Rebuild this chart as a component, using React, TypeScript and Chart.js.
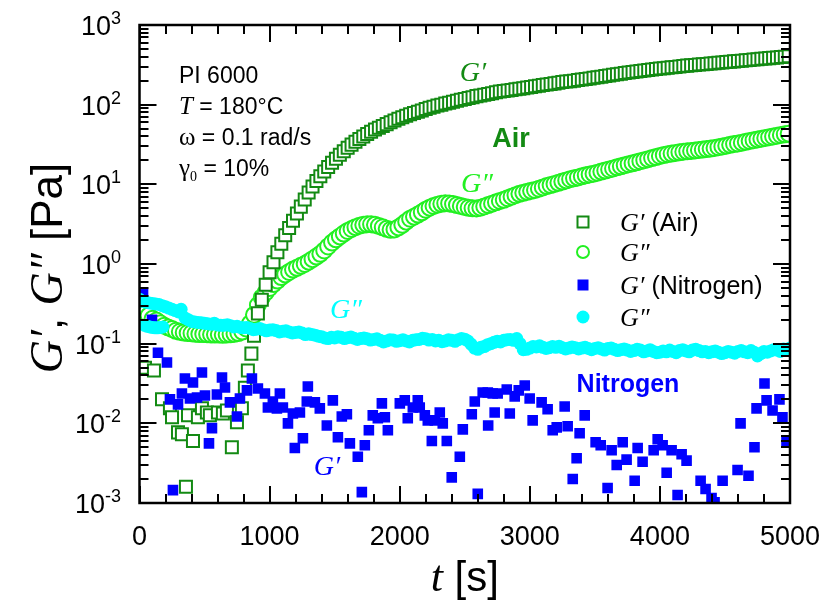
import React, { useEffect, useRef } from 'react';
import { Chart, registerables } from 'chart.js';
Chart.register(...registerables);

// ---------- axes ----------
const X_MIN = 0;
const X_MAX = 5000;
const Y_MIN = 1e-3;
const Y_MAX = 1e3;
const xTickValues = [0, 1000, 2000, 3000, 4000, 5000];
const xTickLabels = ['0', '1000', '2000', '3000', '4000', '5000'];
const yTickExponents = [-3, -2, -1, 0, 1, 2, 3];
const yTickExpLabels = ['-3', '-2', '-1', '0', '1', '2', '3'];

// ---------- data: [t (s), modulus (Pa)] ----------
const airStorage: [number, number][] = [
  [42, 0.05], [111, 0.046], [173, 0.02], [234, 0.0155], [250, 0.0119], [296, 0.0077], [326, 0.0073],
  [357, 0.0016], [373, 0.0126], [411, 0.006], [449, 0.0119], [480, 0.0155], [518, 0.0137], [541, 0.0126],
  [603, 0.0137], [641, 0.0133], [672, 0.0145], [710, 0.005], [749, 0.0103], [787, 0.0155], [810, 0.028],
  [833, 0.046], [860, 0.075],
  [880, 0.126], [910, 0.24], [940, 0.355], [970, 0.55], [1000, 0.79], [1030, 1.05], [1060, 1.4],
  [1090, 1.8], [1120, 2.29], [1150, 2.83], [1180, 3.5], [1210, 4.3], [1240, 5.25], [1270, 6.45],
  [1300, 7.9], [1330, 9.4], [1360, 11.0], [1390, 12.6], [1420, 14.5], [1450, 16.5], [1480, 18.6],
  [1510, 21.0], [1540, 23.5], [1570, 26.0], [1600, 28.8], [1630, 31.5], [1660, 34.3], [1690, 37.1],
  [1720, 39.8], [1750, 42.7], [1780, 45.8], [1810, 48.7], [1840, 51.3], [1870, 54.0], [1900, 57.0],
  [1930, 60.0], [1960, 63.1], [1990, 66.4], [2020, 69.6], [2050, 72.7], [2080, 75.9], [2110, 78.5],
  [2140, 81.3], [2170, 84.4], [2200, 88.1], [2230, 91.2], [2260, 94.4], [2290, 97.4], [2320, 100],
  [2350, 103.5], [2380, 106], [2410, 109], [2440, 112], [2470, 115], [2500, 118], [2530, 121],
  [2560, 124], [2590, 128], [2620, 130], [2650, 133], [2680, 136], [2710, 139], [2740, 143], [2770, 146],
  [2800, 148], [2830, 150.5], [2860, 153], [2890, 156], [2920, 158], [2950, 161], [2980, 164],
  [3010, 167], [3040, 170], [3070, 173], [3100, 176], [3130, 179], [3160, 182], [3190, 185], [3220, 189],
  [3250, 192], [3280, 195], [3310, 196.5], [3340, 200], [3370, 203.5], [3400, 207], [3430, 210],
  [3460, 213], [3490, 217], [3520, 221], [3550, 224.5], [3580, 229], [3610, 233], [3640, 237],
  [3670, 241.5], [3700, 245], [3730, 249.5], [3760, 254], [3790, 257.5], [3820, 261], [3850, 265],
  [3880, 269], [3910, 272.5], [3940, 276], [3970, 280], [4000, 284], [4030, 287], [4060, 291],
  [4090, 294.5], [4120, 298], [4150, 302], [4180, 306], [4210, 309], [4240, 312], [4270, 315],
  [4300, 319], [4330, 322], [4360, 325], [4390, 329], [4420, 332], [4450, 335.5], [4480, 339],
  [4510, 343], [4540, 346], [4570, 349.5], [4600, 353], [4630, 357], [4660, 361], [4690, 364.5],
  [4720, 368], [4750, 372], [4780, 376], [4810, 379.5], [4840, 384], [4870, 387.5], [4900, 391],
  [4930, 395.5], [4960, 400], [4990, 404.5],
];

const airLoss: [number, number][] = [
  [10, 0.215], [40, 0.235], [70, 0.225], [100, 0.205], [130, 0.195], [160, 0.18], [190, 0.168],
  [220, 0.16], [250, 0.153], [280, 0.145], [310, 0.141], [340, 0.138], [370, 0.136], [400, 0.135],
  [430, 0.133], [460, 0.132], [490, 0.132], [520, 0.131], [550, 0.13], [580, 0.13], [610, 0.13],
  [640, 0.129], [670, 0.13], [700, 0.131], [730, 0.133], [760, 0.136], [790, 0.142], [820, 0.155],
  [850, 0.18],
  [880, 0.23], [910, 0.305], [940, 0.38], [970, 0.44], [1000, 0.5], [1030, 0.56], [1060, 0.62],
  [1090, 0.685], [1120, 0.74], [1150, 0.795], [1180, 0.85], [1210, 0.895], [1240, 0.95], [1270, 1.0],
  [1300, 1.07], [1330, 1.15], [1360, 1.24], [1390, 1.34], [1420, 1.48], [1450, 1.66], [1480, 1.86],
  [1510, 2.04], [1540, 2.22], [1570, 2.41], [1600, 2.6], [1630, 2.75], [1660, 2.9], [1690, 3.02],
  [1720, 3.1], [1750, 3.15], [1780, 3.15], [1810, 3.1], [1840, 3.0], [1870, 2.89], [1900, 2.76],
  [1930, 2.69], [1960, 2.72], [1990, 2.88], [2020, 3.1], [2050, 3.4], [2080, 3.7], [2110, 3.93],
  [2140, 4.18], [2170, 4.46], [2200, 4.8], [2230, 5.1], [2260, 5.35], [2290, 5.55], [2320, 5.7],
  [2350, 5.78], [2380, 5.75], [2410, 5.65], [2440, 5.5], [2470, 5.35], [2500, 5.2], [2530, 5.08],
  [2560, 5.0], [2590, 4.99], [2620, 5.1], [2650, 5.28], [2680, 5.5], [2710, 5.72], [2740, 5.95],
  [2770, 6.18], [2800, 6.4], [2830, 6.7], [2860, 7.0], [2890, 7.3], [2920, 7.6], [2950, 7.82],
  [2980, 8.05], [3010, 8.28], [3040, 8.5], [3070, 8.8], [3100, 9.15], [3130, 9.5], [3160, 9.8],
  [3190, 10.1], [3220, 10.45], [3250, 10.82], [3280, 11.2], [3310, 11.58], [3340, 11.9], [3370, 12.22],
  [3400, 12.6], [3430, 12.98], [3460, 13.3], [3490, 13.62], [3520, 14.0], [3550, 14.45], [3580, 14.9],
  [3610, 15.35], [3640, 15.8], [3670, 16.33], [3700, 16.85], [3730, 17.38], [3760, 17.9], [3790, 18.35],
  [3820, 18.9], [3850, 19.5], [3880, 20.1], [3910, 20.7], [3940, 21.35], [3970, 22.0], [4000, 22.7],
  [4030, 23.3], [4060, 23.85], [4090, 24.35], [4120, 24.8], [4150, 25.25], [4180, 25.65], [4210, 26.0],
  [4240, 26.3], [4270, 26.68], [4300, 27.0], [4330, 27.33], [4360, 27.7], [4390, 28.08], [4420, 28.6],
  [4450, 29.22], [4480, 29.9], [4510, 30.58], [4540, 31.3], [4570, 32.0], [4600, 32.6], [4630, 33.35],
  [4660, 34.15], [4690, 34.98], [4720, 35.8], [4750, 36.62], [4780, 37.45], [4810, 38.28], [4840, 39.1],
  [4870, 39.92], [4900, 40.8], [4930, 41.68], [4960, 42.5], [4990, 43.25],
];

const nitrogenStorage: [number, number][] = [
  [27, 0.42], [96, 0.2], [142, 0.077], [211, 0.058], [234, 0.02], [257, 0.00145], [296, 0.0173],
  [326, 0.0237], [349, 0.0365], [388, 0.0205], [411, 0.0326], [442, 0.0211], [480, 0.0434], [503, 0.0224],
  [534, 0.0056], [557, 0.0087], [595, 0.023], [634, 0.0376], [657, 0.0282], [695, 0.0183], [749, 0.0122],
  [772, 0.0205], [826, 0.0259], [864, 0.0365], [910, 0.0274], [964, 0.0237], [987, 0.0158], [1025, 0.0188],
  [1056, 0.0154], [1079, 0.0237], [1102, 0.0158], [1141, 0.01], [1179, 0.0133], [1194, 0.0049],
  [1233, 0.0137], [1256, 0.0065], [1286, 0.0188], [1294, 0.029], [1348, 0.0183], [1386, 0.0154],
  [1440, 0.0094], [1486, 0.0194], [1525, 0.0067], [1555, 0.0122], [1594, 0.013], [1617, 0.0056],
  [1678, 0.0038], [1709, 0.00137], [1732, 0.0053], [1763, 0.0082], [1793, 0.0126], [1832, 0.0116],
  [1863, 0.0178], [1886, 0.0119], [1909, 0.0082], [2001, 0.0178], [2039, 0.0194], [2062, 0.0116],
  [2101, 0.0158], [2139, 0.0194], [2154, 0.0158], [2193, 0.0126], [2216, 0.0109], [2247, 0.006],
  [2270, 0.0109], [2308, 0.0137], [2331, 0.01], [2362, 0.006], [2400, 0.0021], [2462, 0.0038],
  [2485, 0.0084], [2554, 0.013], [2577, 0.0188], [2600, 0.0013], [2638, 0.0244], [2677, 0.0244],
  [2680, 0.0094], [2715, 0.0237], [2730, 0.0137], [2753, 0.0237], [2823, 0.0266], [2846, 0.0133],
  [2884, 0.0218], [2915, 0.0259], [2961, 0.0299], [2999, 0.0205], [3022, 0.0109], [3091, 0.0183],
  [3137, 0.015], [3176, 0.0082], [3207, 0.0089], [3268, 0.0163], [3291, 0.0092], [3330, 0.002],
  [3360, 0.00365], [3383, 0.0075], [3422, 0.0126], [3506, 0.0058], [3545, 0.0053], [3598, 0.00154],
  [3629, 0.0046], [3668, 0.003], [3714, 0.0058], [3744, 0.0035], [3806, 0.0019], [3829, 0.0049],
  [3867, 0.0033], [3952, 0.0046], [3983, 0.0063], [4021, 0.0053], [4052, 0.0024], [4090, 0.0046],
  [4136, 0.00126], [4167, 0.0041], [4205, 0.0034], [4313, 0.0019], [4351, 0.0015], [4397, 0.00115],
  [4420, 0.00102], [4482, 0.0019], [4597, 0.0026], [4620, 0.01], [4681, 0.0022], [4727, 0.005],
  [4743, 0.0154], [4804, 0.0316], [4820, 0.0194], [4866, 0.0145], [4919, 0.02], [4942, 0.0119],
  [4973, 0.006],
];

const nitrogenLoss: [number, number][] = [
  [0, 0.36], [25, 0.34], [50, 0.33], [75, 0.325], [100, 0.32], [125, 0.315], [150, 0.31], [175, 0.3],
  [200, 0.29], [225, 0.28], [250, 0.27], [275, 0.26], [300, 0.25], [320, 0.27],
  [40, 0.17], [60, 0.165], [80, 0.162], [100, 0.16], [120, 0.158], [140, 0.158], [160, 0.16], [180, 0.162],
  [350, 0.21], [375, 0.2], [400, 0.19], [425, 0.187], [450, 0.185], [475, 0.183], [500, 0.18],
  [525, 0.178], [550, 0.175], [575, 0.18], [600, 0.172], [625, 0.17], [650, 0.17], [675, 0.173],
  [700, 0.168], [725, 0.162], [750, 0.165], [775, 0.16], [800, 0.158], [825, 0.16], [850, 0.155],
  [875, 0.15], [900, 0.152], [925, 0.155], [950, 0.15], [975, 0.145], [1000, 0.148], [1025, 0.15],
  [1050, 0.146], [1075, 0.14], [1100, 0.143], [1125, 0.145], [1150, 0.14], [1175, 0.136], [1200, 0.138],
  [1225, 0.14], [1250, 0.136], [1275, 0.13], [1300, 0.133], [1325, 0.13], [1350, 0.128], [1375, 0.124],
  [1400, 0.122], [1425, 0.118], [1450, 0.116], [1475, 0.12], [1500, 0.118], [1525, 0.122], [1550, 0.12],
  [1575, 0.116], [1600, 0.119], [1625, 0.121], [1650, 0.117], [1675, 0.113], [1700, 0.116], [1725, 0.118],
  [1750, 0.115], [1775, 0.111], [1800, 0.113], [1825, 0.115], [1850, 0.11], [1875, 0.105], [1900, 0.108],
  [1925, 0.112], [1950, 0.111], [1975, 0.107], [2000, 0.109], [2025, 0.112], [2050, 0.108], [2075, 0.105],
  [2100, 0.11], [2125, 0.112], [2150, 0.113], [2175, 0.117], [2200, 0.115], [2225, 0.111], [2250, 0.113],
  [2275, 0.108], [2300, 0.11], [2325, 0.106], [2350, 0.108], [2375, 0.112], [2400, 0.11], [2425, 0.107],
  [2450, 0.112], [2475, 0.116], [2500, 0.114], [2525, 0.108], [2550, 0.098], [2575, 0.088], [2600, 0.085],
  [2625, 0.09], [2650, 0.092], [2675, 0.097], [2700, 0.1], [2725, 0.104], [2750, 0.107], [2775, 0.105],
  [2800, 0.11], [2825, 0.112], [2850, 0.113], [2875, 0.11], [2900, 0.116], [2925, 0.1], [2950, 0.084],
  [2975, 0.085], [3000, 0.088], [3025, 0.092], [3050, 0.091], [3075, 0.094], [3100, 0.09], [3125, 0.087],
  [3150, 0.089], [3175, 0.092], [3200, 0.09], [3225, 0.093], [3250, 0.089], [3275, 0.086], [3300, 0.088],
  [3325, 0.091], [3350, 0.089], [3375, 0.086], [3400, 0.088], [3425, 0.09], [3450, 0.087], [3475, 0.084],
  [3500, 0.087], [3525, 0.089], [3550, 0.086], [3575, 0.083], [3600, 0.087], [3625, 0.088], [3650, 0.085],
  [3675, 0.082], [3700, 0.084], [3725, 0.086], [3750, 0.083], [3775, 0.08], [3800, 0.082], [3825, 0.085],
  [3850, 0.083], [3875, 0.079], [3900, 0.081], [3925, 0.084], [3950, 0.08], [3975, 0.077], [4000, 0.078],
  [4025, 0.081], [4050, 0.079], [4075, 0.083], [4100, 0.08], [4125, 0.077], [4150, 0.082], [4175, 0.084],
  [4200, 0.081], [4225, 0.079], [4250, 0.083], [4275, 0.085], [4300, 0.082], [4325, 0.079], [4350, 0.08],
  [4375, 0.077], [4400, 0.079], [4425, 0.081], [4450, 0.078], [4475, 0.075], [4500, 0.077], [4525, 0.08],
  [4550, 0.078], [4575, 0.076], [4600, 0.08], [4625, 0.082], [4650, 0.079], [4675, 0.077], [4700, 0.082],
  [4725, 0.078], [4750, 0.07], [4775, 0.075], [4800, 0.08], [4825, 0.078], [4850, 0.081], [4875, 0.084],
  [4900, 0.083], [4925, 0.08], [4950, 0.086], [4975, 0.085], [5000, 0.088],
];

// ---------- styling ----------
const DARK_GREEN = '#138a13';
const LIGHT_GREEN = '#22f022';
const BLUE = '#0000ff';
const CYAN = '#00ffff';
const SANS = '"Liberation Sans", Arial, sans-serif';
const SERIF = '"Liberation Serif", "Times New Roman", serif';

type Part = { t: string; font: string; dy?: number; color?: string };

function drawParts(ctx: CanvasRenderingContext2D, parts: Part[], x: number, y: number, align: 'left' | 'center' | 'right', color: string) {
  let w = 0;
  for (const p of parts) {
    ctx.font = p.font;
    w += ctx.measureText(p.t).width;
  }
  let cx = align === 'left' ? x : align === 'center' ? x - w / 2 : x - w;
  ctx.textAlign = 'left';
  ctx.textBaseline = 'alphabetic';
  for (const p of parts) {
    ctx.font = p.font;
    ctx.fillStyle = p.color || color;
    ctx.fillText(p.t, cx, y + (p.dy || 0));
    cx += ctx.measureText(p.t).width;
  }
}

const decorPlugin = {
  id: 'decor',
  afterDatasetsDraw(chart: any) {
    const ctx: CanvasRenderingContext2D = chart.ctx;
    const { left, right, top, bottom } = chart.chartArea;
    const xs = chart.scales.x;
    const ys = chart.scales.y;
    ctx.save();
    ctx.strokeStyle = '#000';
    // ticks
    ctx.lineWidth = 2;
    ctx.beginPath();
    for (let v = X_MIN; v <= X_MAX; v += 200) {
      const px = Math.round(xs.getPixelForValue(v));
      const len = v % 1000 === 0 ? 17 : 9;
      ctx.moveTo(px, bottom);
      ctx.lineTo(px, bottom - len);
      ctx.moveTo(px, top);
      ctx.lineTo(px, top + len);
    }
    for (let e = -3; e < 3; e++) {
      for (let m = 1; m <= 9; m++) {
        const py = Math.round(ys.getPixelForValue(m * Math.pow(10, e)));
        const len = m === 1 ? 17 : 9;
        ctx.moveTo(left, py);
        ctx.lineTo(left + len, py);
        ctx.moveTo(right, py);
        ctx.lineTo(right - len, py);
      }
    }
    ctx.stroke();
    // frame
    ctx.lineWidth = 2.5;
    ctx.strokeRect(left, top, right - left, bottom - top);

    // x tick labels
    xTickValues.forEach((v, i) => {
      const px = xs.getPixelForValue(v);
      drawParts(ctx, [{ t: xTickLabels[i], font: `27px ${SANS}` }], px, bottom + 42, 'center', '#000');
    });
    // y tick labels
    yTickExponents.forEach((e, i) => {
      const py = ys.getPixelForValue(Math.pow(10, e));
      drawParts(ctx, [
        { t: '10', font: `27px ${SANS}` },
        { t: yTickExpLabels[i], font: `18px ${SANS}`, dy: -11 },
      ], 121, py + 10, 'right', '#000');
    });

    // axis titles
    drawParts(ctx, [
      { t: 't', font: `italic 44px ${SERIF}` },
      { t: ' [s]', font: `42px ${SANS}` },
    ], (left + right) / 2, 591, 'center', '#000');
    ctx.save();
    ctx.translate(62, (top + bottom) / 2 + 4);
    ctx.rotate(-Math.PI / 2);
    drawParts(ctx, [
      { t: 'G\u2032', font: `italic 46px ${SERIF}` },
      { t: ', ', font: `44px ${SANS}` },
      { t: 'G\u2033', font: `italic 46px ${SERIF}` },
      { t: ' [Pa]', font: `44px ${SANS}` },
    ], 0, 0, 'center', '#000');
    ctx.restore();

    // annotation block
    const ax = 179;
    drawParts(ctx, [{ t: 'PI 6000', font: `23px ${SANS}` }], ax, 83, 'left', '#000');
    drawParts(ctx, [
      { t: 'T', font: `italic 25px ${SERIF}` },
      { t: ' = 180\u00B0C', font: `23px ${SANS}` },
    ], ax, 114, 'left', '#000');
    drawParts(ctx, [
      { t: '\u03C9', font: `25px ${SERIF}` },
      { t: ' = 0.1 rad/s', font: `23px ${SANS}` },
    ], ax, 145, 'left', '#000');
    drawParts(ctx, [
      { t: '\u03B3', font: `25px ${SERIF}` },
      { t: '0', font: `14px ${SERIF}`, dy: 5 },
      { t: ' = 10%', font: `23px ${SANS}` },
    ], ax, 176, 'left', '#000');

    // curve labels
    drawParts(ctx, [{ t: 'G\u2032', font: `italic 28px ${SERIF}` }], 473, 81, 'center', DARK_GREEN);
    drawParts(ctx, [{ t: 'Air', font: `bold 27px ${SANS}` }], 511, 147, 'center', DARK_GREEN);
    drawParts(ctx, [{ t: 'G\u2033', font: `italic 28px ${SERIF}` }], 477, 192, 'center', LIGHT_GREEN);
    drawParts(ctx, [{ t: 'G\u2033', font: `italic 28px ${SERIF}` }], 346, 318, 'center', CYAN);
    drawParts(ctx, [{ t: 'Nitrogen', font: `bold 25px ${SANS}` }], 628, 392, 'center', BLUE);
    drawParts(ctx, [{ t: 'G\u2032', font: `italic 28px ${SERIF}` }], 327, 475, 'center', BLUE);

    // legend
    const sx = 583;
    const tx = 620;
    ctx.lineWidth = 2;
    ctx.strokeStyle = DARK_GREEN;
    ctx.strokeRect(sx - 5.5, 222 - 5.5, 11, 11);
    drawParts(ctx, [
      { t: 'G\u2032', font: `italic 26px ${SERIF}` },
      { t: ' (Air)', font: `25px ${SANS}` },
    ], tx, 231, 'left', '#000');
    ctx.strokeStyle = LIGHT_GREEN;
    ctx.beginPath();
    ctx.arc(sx, 252, 6, 0, Math.PI * 2);
    ctx.stroke();
    drawParts(ctx, [{ t: 'G\u2033', font: `italic 26px ${SERIF}` }], tx, 261, 'left', '#000');
    ctx.fillStyle = BLUE;
    ctx.fillRect(sx - 5.5, 285 - 5.5, 11, 11);
    drawParts(ctx, [
      { t: 'G\u2032', font: `italic 26px ${SERIF}` },
      { t: ' (Nitrogen)', font: `25px ${SANS}` },
    ], tx, 294, 'left', '#000');
    ctx.fillStyle = CYAN;
    ctx.beginPath();
    ctx.arc(sx, 317, 6.5, 0, Math.PI * 2);
    ctx.fill();
    drawParts(ctx, [{ t: 'G\u2033', font: `italic 26px ${SERIF}` }], tx, 326, 'left', '#000');

    ctx.restore();
  },
};

const toPts = (arr: [number, number][]) => arr.map(([x, y]) => ({ x, y }));

export default function App() {
  const ref = useRef<HTMLCanvasElement | null>(null);
  useEffect(() => {
    if (!ref.current) return;
    const chart = new Chart(ref.current, {
      type: 'scatter',
      data: {
        datasets: [
          {
            label: "G'' (Nitrogen)",
            data: toPts(nitrogenLoss),
            pointStyle: 'circle',
            radius: 6.5,
            borderWidth: 0,
            backgroundColor: CYAN,
            borderColor: CYAN,
            order: 0,
            clip: 0,
          },
          {
            label: "G' (Nitrogen)",
            data: toPts(nitrogenStorage),
            pointStyle: 'rect',
            radius: 7.5,
            borderWidth: 0,
            backgroundColor: BLUE,
            borderColor: BLUE,
            order: 1,
            clip: 0,
          },
          {
            label: "G' (Air)",
            data: toPts(airStorage),
            pointStyle: 'rect',
            radius: 8.5,
            borderWidth: 2,
            backgroundColor: '#ffffff',
            borderColor: DARK_GREEN,
            order: 2,
            clip: 0,
          },
          {
            label: "G'' (Air)",
            data: toPts(airLoss),
            pointStyle: 'circle',
            radius: 8,
            borderWidth: 2,
            backgroundColor: '#ffffff',
            borderColor: LIGHT_GREEN,
            order: 3,
            clip: 0,
          },
        ] as any,
      },
      options: {
        animation: false,
        responsive: false,
        devicePixelRatio: 1,
        layout: { padding: { left: 139.5, right: 40, top: 25, bottom: 105 } },
        plugins: { legend: { display: false }, tooltip: { enabled: false } },
        events: [],
        scales: {
          x: { type: 'linear', min: X_MIN, max: X_MAX, display: false },
          y: { type: 'logarithmic', min: Y_MIN, max: Y_MAX, display: false },
        },
      },
      plugins: [decorPlugin],
    });
    return () => chart.destroy();
  }, []);
  return (
    <div style={{ position: 'fixed', left: 0, top: 0, width: 830, height: 608, background: '#fff' }}>
      <canvas ref={ref} width={830} height={608} style={{ width: 830, height: 608 }} />
    </div>
  );
}
